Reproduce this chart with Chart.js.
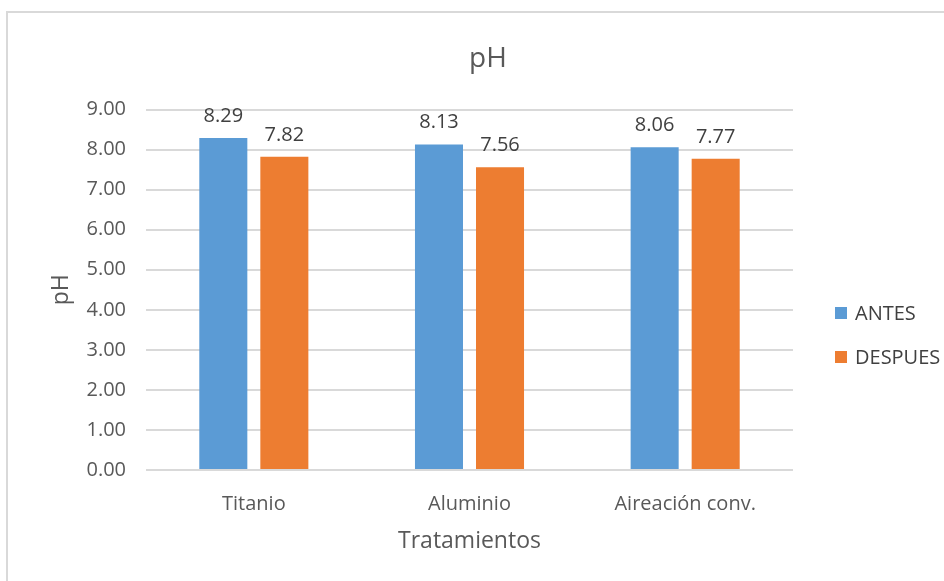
<!DOCTYPE html>
<html lang="es">
<head>
    <meta charset="UTF-8">
    <title>pH</title>
    <script src="https://cdn.jsdelivr.net/npm/chart.js"></script>
    <style>
        body { margin: 0; overflow: hidden; background: #fff; }
        .marco {
            position: absolute; left: 6px; top: 11px;
            width: 960px; height: 600px;
            border: 2px solid #d9d9d9;
        }
        .caja { position: absolute; left: 0; top: 0; width: 944px; height: 581px; }
    </style>
</head>
<body>
    <div class="marco"></div>
    <div class="caja">
        <canvas id="myChart" width="944" height="581"></canvas>
    </div>

<script>
// datos
const tratamientos = ['Titanio', 'Aluminio', 'Aireación conv.'];
const antes = [8.29, 8.13, 8.06];
const despues = [7.82, 7.56, 7.77];
const ticksY = [0, 1, 2, 3, 4, 5, 6, 7, 8, 9];

const gris = '#595959';
const fuente = "'Open Sans', sans-serif";

// etiquetas de valor encima de cada barra
const etiquetas = {
    id: 'etiquetas',
    afterDatasetsDraw(chart) {
        const ctx = chart.ctx;
        ctx.save();
        ctx.font = '20px ' + fuente;
        ctx.fillStyle = '#404040';
        ctx.textAlign = 'center';
        ctx.textBaseline = 'bottom';
        chart.data.datasets.forEach(function (ds, i) {
            chart.getDatasetMeta(i).data.forEach(function (bar, j) {
                ctx.fillText(ds.data[j].toFixed(2), bar.x, bar.y - 12);
            });
        });
        ctx.restore();
    }
};

// leyenda a la derecha, como en Excel
const leyenda = {
    id: 'leyenda',
    afterDraw(chart) {
        const ctx = chart.ctx;
        const x = chart.chartArea.right + 42;
        let y = 313;
        ctx.save();
        ctx.font = '20px ' + fuente;
        ctx.textBaseline = 'middle';
        ctx.textAlign = 'left';
        chart.data.datasets.forEach(function (ds) {
            ctx.fillStyle = ds.backgroundColor;
            ctx.fillRect(x, y - 6, 12, 12);
            ctx.fillStyle = '#404040';
            ctx.fillText(ds.label, x + 20, y + 1);
            y += 44;
        });
        ctx.restore();
    }
};

const config = {
    type: 'bar',
    data: {
        labels: tratamientos,
        datasets: [
            { label: 'ANTES', data: antes, backgroundColor: '#5B9BD5' },
            { label: 'DESPUES', data: despues, backgroundColor: '#ED7D31' }
        ]
    },
    options: {
        responsive: false,
        animation: false,
        layout: { padding: { top: 42, left: 32, right: 0, bottom: 22 } },
        datasets: { bar: { categoryPercentage: 0.566, barPercentage: 0.787 } },
        plugins: {
            title: {
                display: true, text: 'pH', color: gris,
                font: { family: fuente, size: 28, weight: 'normal' },
                padding: { top: 0, bottom: 34 }
            },
            legend: { display: false },
            tooltip: { enabled: false }
        },
        scales: {
            x: {
                afterFit(axis) { axis.height = 89; },
                grid: { display: false },
                border: { display: false },
                ticks: {
                    color: gris, font: { family: fuente, size: 20 }, padding: 14,
                    maxRotation: 0, minRotation: 0
                },
                title: {
                    display: true, text: 'Tratamientos', color: gris,
                    font: { family: fuente, size: 23 }, padding: { top: 12, bottom: 4 }
                }
            },
            y: {
                min: 0, max: 9,
                afterFit(axis) { axis.width = 114; },
                afterBuildTicks(axis) { axis.ticks = ticksY.map(v => ({ value: v })); },
                grid: { color: '#d9d9d9', lineWidth: 2, drawTicks: false },
                border: { display: false },
                ticks: {
                    color: gris, font: { family: fuente, size: 20 }, padding: 20,
                    callback: v => v.toFixed(2)
                },
                title: {
                    display: true, text: 'pH', color: gris,
                    font: { family: fuente, size: 23 }, padding: { top: 16, bottom: 4 }
                }
            },
            // hueco para la leyenda
            derecha: {
                type: 'linear', position: 'right', display: true,
                afterFit(axis) { axis.width = 151; },
                grid: { display: false },
                border: { display: false },
                ticks: { display: false }
            }
        }
    },
    plugins: [etiquetas, leyenda]
};

new Chart(document.getElementById('myChart'), config);
</script>
</body>
</html>
